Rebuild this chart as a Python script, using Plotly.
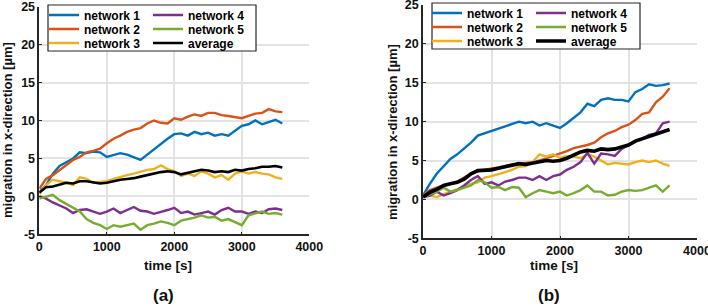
import plotly.graph_objects as go

W, H = 708, 306

time_s = [0, 100, 200, 300, 400, 500, 600, 700, 800, 900, 1000, 1100, 1200, 1300,
          1400, 1500, 1600, 1700, 1800, 1900, 2000, 2100, 2200, 2300, 2400, 2500,
          2600, 2700, 2800, 2900, 3000, 3100, 3200, 3300, 3400, 3500, 3600]

series_names = ["network 1", "network 2", "network 3", "network 4", "network 5", "average"]

# panel (a)
a_net1 = [0.5, 1.5, 3.0, 4.0, 4.5, 5.0, 5.8, 5.7, 5.9, 5.8, 5.2, 5.5, 5.7, 5.5, 5.2, 4.8, 5.5, 6.2, 7.0,
          7.6, 8.2, 8.3, 8.0, 8.5, 8.2, 8.4, 8.0, 8.2, 8.0, 8.7, 9.3, 9.5, 10.0, 9.5, 9.8, 10.1, 9.6]
a_net2 = [1.0, 2.3, 2.8, 3.5, 4.2, 4.8, 5.2, 5.8, 6.0, 6.3, 7.0, 7.6, 8.0, 8.5, 8.8, 9.0, 9.6, 10.0, 9.7,
          9.6, 10.3, 10.1, 10.5, 10.8, 10.6, 11.0, 11.0, 10.7, 10.6, 10.5, 10.3, 10.6, 10.9, 11.0, 11.5, 11.2, 11.1]
a_net3 = [0.3, 1.5, 2.2, 2.0, 1.8, 1.5, 2.5, 2.3, 1.8, 1.9, 2.0, 2.3, 2.6, 2.8, 3.0, 3.3, 3.5, 3.6, 4.1,
          3.6, 3.3, 2.7, 3.0, 2.7, 3.3, 3.0, 2.5, 2.8, 2.2, 3.0, 3.3, 3.0, 3.2, 3.0, 2.9, 2.5, 2.3]
a_net4 = [0.0, -0.3, -0.8, -1.2, -1.6, -2.2, -1.8, -1.7, -2.0, -2.3, -2.0, -1.6, -2.2, -1.8, -1.4, -1.9,
          -2.0, -2.3, -2.1, -1.8, -1.5, -2.2, -2.0, -2.4, -2.2, -2.0, -2.4, -1.8, -1.5, -2.0, -2.0, -2.3,
          -2.0, -2.2, -1.7, -1.6, -1.8]
a_net5 = [-0.3, 0.0, 0.2, -0.5, -1.0, -1.5, -2.0, -3.0, -3.5, -3.8, -4.3, -3.8, -4.0, -3.8, -3.6, -4.4,
          -3.8, -3.6, -3.3, -3.5, -3.8, -3.2, -3.0, -2.8, -2.5, -2.8, -2.7, -3.2, -3.0, -3.4, -3.8, -2.5,
          -2.2, -2.0, -2.3, -2.2, -2.4]
a_avg = [0.5, 1.2, 1.3, 1.6, 1.8, 1.7, 2.0, 2.0, 1.8, 1.7, 1.8, 2.0, 2.2, 2.3, 2.4, 2.6, 2.8, 3.0, 3.2,
         3.3, 3.2, 2.9, 3.1, 3.3, 3.5, 3.4, 3.2, 3.3, 3.2, 3.5, 3.4, 3.6, 3.7, 3.9, 3.9, 4.0, 3.8]

# panel (b)
b_net1 = [0.5, 2.0, 3.3, 4.3, 5.2, 5.8, 6.5, 7.3, 8.2, 8.5, 8.8, 9.0, 9.4, 9.6, 10.0, 9.8, 10.0, 9.5, 9.8,
          9.5, 9.2, 9.8, 10.5, 11.2, 12.3, 12.0, 12.8, 13.0, 12.8, 12.8, 12.6, 13.8, 14.2, 14.8, 14.6, 14.7, 14.9]
b_net2 = [0.5, 1.2, 1.5, 1.8, 2.0, 2.3, 2.8, 3.3, 3.6, 3.8, 4.0, 4.1, 4.3, 4.5, 4.6, 4.7, 4.8, 5.0, 5.3,
          5.5, 5.9, 6.2, 6.6, 6.8, 7.0, 7.3, 8.0, 8.5, 8.8, 9.3, 9.6, 10.2, 11.0, 11.2, 12.5, 13.2, 14.3]
b_net3 = [0.3, 0.5, 0.3, 0.7, 1.0, 1.3, 1.7, 2.0, 2.2, 2.8, 3.0, 3.3, 3.5, 3.8, 4.2, 4.3, 4.8, 5.8, 5.5,
          5.8, 5.3, 5.6, 5.5, 5.3, 5.8, 5.5, 5.0, 4.5, 4.7, 4.6, 4.5, 4.8, 5.0, 4.8, 5.0, 4.6, 4.3]
b_net4 = [0.3, 0.5, 1.0, 0.5, 0.8, 1.2, 1.8, 2.5, 3.0, 2.0, 2.2, 1.8, 2.3, 2.5, 2.8, 2.8, 2.5, 3.0, 2.5,
          3.0, 3.2, 3.8, 4.2, 4.8, 6.0, 4.6, 5.9, 5.8, 5.6, 6.5, 7.0, 7.5, 7.8, 8.3, 8.5, 9.8, 10.0]
b_net5 = [0.3, 0.6, 1.0, 1.5, 1.0, 1.2, 1.5, 1.8, 2.5, 2.2, 1.5, 1.6, 1.2, 1.6, 1.5, 0.3, 0.8, 1.2, 1.0,
          0.8, 1.0, 0.5, 0.8, 1.2, 1.8, 1.0, 1.0, 0.5, 0.6, 1.0, 1.2, 1.1, 1.2, 1.5, 1.8, 1.0, 1.8]
b_avg = [0.3, 0.9, 1.3, 1.8, 2.0, 2.2, 2.6, 3.3, 3.7, 3.7, 3.8, 4.0, 4.2, 4.3, 4.6, 4.5, 4.7, 4.8, 5.0,
         4.9, 5.0, 5.3, 5.7, 6.1, 6.3, 6.2, 6.5, 6.4, 6.5, 6.8, 7.0, 7.5, 7.8, 8.1, 8.5, 8.8, 9.0]

x_ticks = [0, 1000, 2000, 3000, 4000]
y_ticks = [-5, 0, 5, 10, 15, 20, 25]

colors = ["#0072BD", "#D95319", "#EDB120", "#7E2F8E", "#77AC30", "#000000"]

FONT = "Liberation Sans, Arial, Helvetica, sans-serif"


def px_x(p):
    return p / W


def px_y(p):
    return 1 - p / H


panels = [
    dict(data=[a_net1, a_net2, a_net3, a_net4, a_net5, a_avg], xa="x", ya="y",
         xdom=(39.3, 309.3), ydom=(234.3, 6.7), avg_w=2.6,
         leg_cols=(44, 148), leg_rows=(15, 29, 43), box=(48, 256, 5, 51),
         ylab=(7, 130), xlab=(168, 265), tag=(163, 295, "(a)")),
    dict(data=[b_net1, b_net2, b_net3, b_net4, b_net5, b_avg], xa="x2", ya="y2",
         xdom=(423, 697), ydom=(238.3, 5), avg_w=3.6,
         leg_cols=(427, 531), leg_rows=(13, 27, 41), box=(432, 640, 3, 49),
         ylab=(392, 132), xlab=(554, 265), tag=(549, 295, "(b)")),
]

fig = go.Figure()
layout_extra = {}
annotations = []
shapes = []
leg_idx = 0
for pi, p in enumerate(panels):
    for si, (name, vals) in enumerate(zip(series_names, p["data"])):
        leg_idx += 1
        lname = "legend" if leg_idx == 1 else f"legend{leg_idx}"
        width = p["avg_w"] if si == 5 else 2.4
        fig.add_trace(go.Scatter(
            x=time_s, y=vals, mode="lines", name=name,
            line=dict(color=colors[si], width=width),
            xaxis=p["xa"], yaxis=p["ya"], legend=lname, showlegend=True,
        ))
        col = si // 3
        row = si % 3
        layout_extra[lname] = dict(
            x=px_x(p["leg_cols"][col]), y=px_y(p["leg_rows"][row]),
            xanchor="left", yanchor="middle",
            bgcolor="rgba(0,0,0,0)", borderwidth=0,
            font=dict(family=FONT, size=12, color="black", weight="bold"),
            itemwidth=30,
        )
    bx0, bx1, by0, by1 = p["box"]
    shapes.append(dict(type="rect", xref="paper", yref="paper",
                       x0=px_x(bx0), x1=px_x(bx1), y0=px_y(by1), y1=px_y(by0),
                       line=dict(color="#262626", width=1.2), fillcolor="white", layer="above"))
    annotations.append(dict(text="migration in x-direction [µm]", xref="paper", yref="paper",
                            x=px_x(p["ylab"][0]), y=px_y(p["ylab"][1]), textangle=-90,
                            showarrow=False, xanchor="center", yanchor="middle",
                            font=dict(family=FONT, size=13, color="#111", weight="bold")))
    annotations.append(dict(text="time [s]", xref="paper", yref="paper",
                            x=px_x(p["xlab"][0]), y=px_y(p["xlab"][1]),
                            showarrow=False, xanchor="center", yanchor="middle",
                            font=dict(family=FONT, size=13.5, color="#111", weight="bold")))
    annotations.append(dict(text=p["tag"][2], xref="paper", yref="paper",
                            x=px_x(p["tag"][0]), y=px_y(p["tag"][1]),
                            showarrow=False, xanchor="center", yanchor="middle",
                            font=dict(family=FONT, size=17, color="#111", weight="bold")))

axis_common = dict(
    showgrid=True, gridcolor="#e3e3e3", gridwidth=1.5, zeroline=False,
    showline=True, linecolor="#262626", linewidth=1.5, mirror=False,
    ticks="inside", ticklen=3, tickcolor="#262626", tickwidth=1,
    tickfont=dict(family=FONT, size=12.5, color="#111", weight="bold"),
    ticklabeloverflow="allow",
)

for pi, p in enumerate(panels):
    sfx = "" if pi == 0 else str(pi + 1)
    layout_extra[f"xaxis{sfx}"] = dict(
        axis_common, domain=[px_x(p["xdom"][0]), px_x(p["xdom"][1])],
        range=[0, 4000], tickvals=x_ticks, ticktext=[str(v) for v in x_ticks],
        anchor=f"y{sfx}", automargin=False,
    )
    layout_extra[f"yaxis{sfx}"] = dict(
        axis_common, domain=[px_y(p["ydom"][0]), px_y(p["ydom"][1])],
        range=[-5, 25], tickvals=y_ticks, ticktext=[str(v) for v in y_ticks],
        anchor=f"x{sfx}", automargin=False,
    )

fig.update_layout(
    width=W, height=H, autosize=False,
    margin=dict(l=0, r=0, t=0, b=0, pad=0, autoexpand=False),
    paper_bgcolor="white", plot_bgcolor="white",
    annotations=annotations, shapes=shapes,
    **layout_extra,
)

fig.write_html("out.html",
               config={"displayModeBar": False},
               post_script="document.body.style.margin='0px';document.body.style.overflow='hidden';")
